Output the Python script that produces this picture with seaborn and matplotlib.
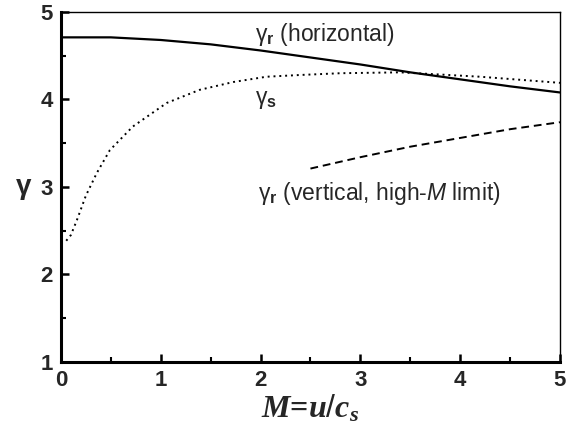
import pandas as pd
import matplotlib.pyplot as plt
from matplotlib.ticker import MultipleLocator
import seaborn as sns

# gamma_r (horizontal) - solid line
m_horiz = [0.0, 0.5, 1.0, 1.5, 2.0, 2.5, 3.0, 3.5, 4.0, 4.5, 5.0]
g_horiz = [4.71, 4.71, 4.68, 4.63, 4.56, 4.48, 4.40, 4.31, 4.23, 4.15, 4.08]

# gamma_s - dotted line
m_s = [0.0, 0.05, 0.1, 0.16, 0.25, 0.36, 0.49, 0.72, 1.06, 1.39, 1.73, 2.06, 2.4, 2.8, 3.4, 4.2, 5.0]
g_s = [2.36, 2.38, 2.45, 2.62, 2.90, 3.16, 3.42, 3.69, 3.96, 4.11, 4.20, 4.26, 4.28, 4.30, 4.31, 4.26, 4.19]

# gamma_r (vertical, high-M limit) - dashed line
m_vert = [2.5, 3.0, 3.5, 4.0, 4.5, 5.0]
g_vert = [3.21, 3.34, 3.46, 3.56, 3.66, 3.74]

sns.set_style("ticks")
plt.rcParams['font.family'] = ['Liberation Sans', 'DejaVu Sans']
plt.rcParams['mathtext.fontset'] = 'custom'
plt.rcParams['mathtext.rm'] = 'Liberation Sans'
plt.rcParams['mathtext.bf'] = 'Liberation Sans:bold'
plt.rcParams['mathtext.sf'] = 'Liberation Sans:italic'
plt.rcParams['mathtext.it'] = 'Liberation Serif:italic:bold'

fig = plt.figure(figsize=(5.8, 4.36), dpi=100)
ax = fig.add_axes([0.105, 0.17, 0.8605, 0.8025])

sns.lineplot(x=m_horiz, y=g_horiz, ax=ax, color='black', linewidth=1.6)
sns.lineplot(x=m_s, y=g_s, ax=ax, color='black', linewidth=1.4, linestyle=(0, (1, 2)))
sns.lineplot(x=m_vert, y=g_vert, ax=ax, color='black', linewidth=1.4, linestyle=(0, (4, 2.5)))

ax.set_xlim(0, 5)
ax.set_ylim(1, 5)
ax.xaxis.set_major_locator(MultipleLocator(1))
ax.xaxis.set_minor_locator(MultipleLocator(0.5))
ax.yaxis.set_major_locator(MultipleLocator(1))
ax.yaxis.set_minor_locator(MultipleLocator(0.5))
ax.tick_params(which='both', direction='in', top=False, right=False, color='black')
ax.tick_params(which='major', length=6, width=1.8, labelsize=16, pad=6)
ax.tick_params(which='minor', length=3.5, width=1.5)
for lbl in ax.get_xticklabels() + ax.get_yticklabels():
    lbl.set_fontweight('bold')

for side in ['left', 'bottom']:
    ax.spines[side].set_linewidth(2.2)
for side in ['top', 'right']:
    ax.spines[side].set_linewidth(1.0)
for sp in ax.spines.values():
    sp.set_color('black')

ax.text(1.94, 4.74, r'γ$_\mathbf{r}$ (horizontal)', fontsize=16.5, va='center')
ax.text(1.94, 4.00, r'γ$_\mathbf{s}$', fontsize=16.5, va='center')
ax.text(1.97, 2.93, r'γ$_\mathbf{r}$ (vertical, high-$\mathsf{M}$ limit)', fontsize=16.5, va='center')

ax.set_xlabel(r'$\mathit{M}$=$\mathit{u/c_s}$', fontsize=23, family='Liberation Serif',
              fontweight='bold', labelpad=1)
ax.set_ylabel('γ', fontsize=20, fontweight='bold', rotation=0, labelpad=12, va='center')

fig.savefig('out.png', dpi=100)
